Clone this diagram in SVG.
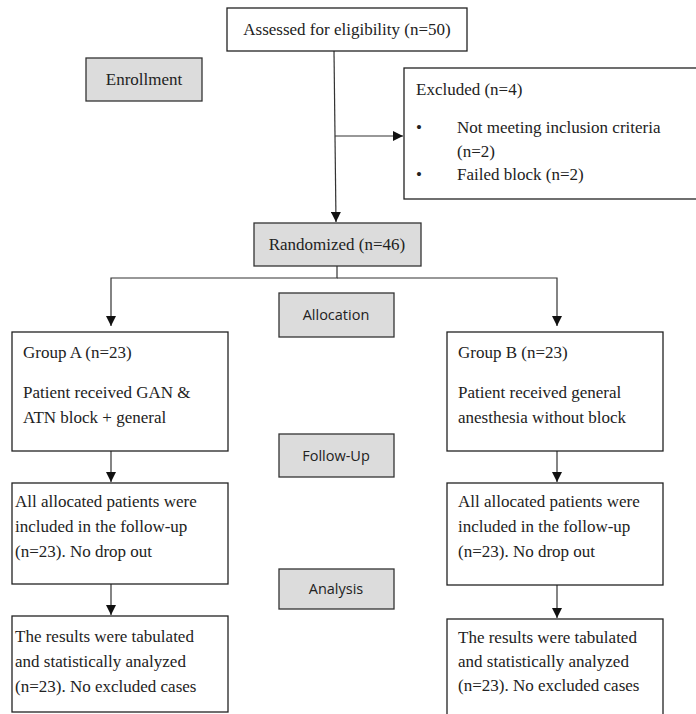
<svg xmlns="http://www.w3.org/2000/svg" width="696" height="714" viewBox="0 0 696 714">
<style>
.box{fill:#fff;stroke:#222;stroke-width:1.3}
.gbox{fill:#dcdcdc;stroke:#333;stroke-width:1.3}
.t{font-family:'Liberation Serif','DejaVu Serif',serif;font-size:17px;fill:#222}
.s{font-family:'Open Sans','Liberation Sans',sans-serif;font-size:14.5px;fill:#222}
.ln{fill:none;stroke:#333;stroke-width:1.2}
</style>
<defs>
<marker id="ah" viewBox="0 0 10 10" refX="10" refY="5" markerWidth="10" markerHeight="10" markerUnits="userSpaceOnUse" orient="auto">
<path d="M0,0 L10,5 L0,10 z" fill="#111"/>
</marker>
</defs>
<rect width="696" height="714" fill="#fff"/>
<g id="connectors">
<line class="ln" x1="334" y1="51" x2="336" y2="222" marker-end="url(#ah)"/>
<line class="ln" x1="335" y1="136" x2="403" y2="136" marker-end="url(#ah)"/>
<polyline class="ln" points="337,266 337,278 111,278 111,326" marker-end="url(#ah)"/>
<polyline class="ln" points="337,278 557,278 557,326" marker-end="url(#ah)"/>
<line class="ln" x1="111" y1="451" x2="111" y2="482" marker-end="url(#ah)"/>
<line class="ln" x1="111" y1="584" x2="111" y2="615" marker-end="url(#ah)"/>
<line class="ln" x1="557" y1="451" x2="557" y2="482" marker-end="url(#ah)"/>
<line class="ln" x1="557" y1="585" x2="557" y2="618" marker-end="url(#ah)"/>
</g>
<g id="assessed">
<rect class="box" x="227" y="8" width="240" height="43"/>
<text class="t" x="347" y="35" text-anchor="middle">Assessed for eligibility (n=50)</text>
</g>
<g id="enrollment">
<rect class="gbox" x="86" y="58" width="116" height="43"/>
<text class="t" x="144" y="85" text-anchor="middle">Enrollment</text>
</g>
<g id="excluded">
<rect class="box" x="404" y="68" width="300" height="131"/>
<text class="t" x="416" y="95">Excluded (n=4)</text>
<text class="t" x="416" y="133">•</text>
<text class="t" x="457" y="133">Not meeting inclusion criteria</text>
<text class="t" x="457" y="157">(n=2)</text>
<text class="t" x="416" y="180">•</text>
<text class="t" x="457" y="180">Failed block (n=2)</text>
</g>
<g id="randomized">
<rect class="gbox" x="254" y="223" width="167" height="43"/>
<text class="t" x="337" y="250" text-anchor="middle">Randomized (n=46)</text>
</g>
<g id="allocation">
<rect class="gbox" x="279" y="293" width="115" height="44"/>
<text class="s" x="336" y="320" text-anchor="middle">Allocation</text>
</g>
<g id="groupA">
<rect class="box" x="12" y="332" width="216" height="119"/>
<text class="t" x="23" y="358">Group A (n=23)</text>
<text class="t" x="23" y="398">Patient received GAN &amp;</text>
<text class="t" x="23" y="423">ATN block + general</text>
</g>
<g id="groupB">
<rect class="box" x="447" y="332" width="216" height="119"/>
<text class="t" x="458" y="358">Group B (n=23)</text>
<text class="t" x="458" y="398">Patient received general</text>
<text class="t" x="458" y="423">anesthesia without block</text>
</g>
<g id="followup">
<rect class="gbox" x="279" y="434" width="115" height="43"/>
<text class="s" x="336" y="461" text-anchor="middle">Follow-Up</text>
</g>
<g id="followA">
<rect class="box" x="12" y="483" width="216" height="101"/>
<text class="t" x="15" y="507">All allocated patients were</text>
<text class="t" x="15" y="532">included in the follow-up</text>
<text class="t" x="15" y="557">(n=23). No drop out</text>
</g>
<g id="followB">
<rect class="box" x="447" y="483" width="216" height="102"/>
<text class="t" x="458" y="507">All allocated patients were</text>
<text class="t" x="458" y="532">included in the follow-up</text>
<text class="t" x="458" y="557">(n=23). No drop out</text>
</g>
<g id="analysis">
<rect class="gbox" x="279" y="569" width="115" height="40"/>
<text class="s" x="336" y="594" text-anchor="middle">Analysis</text>
</g>
<g id="resultsA">
<rect class="box" x="12" y="616" width="216" height="96"/>
<text class="t" x="15" y="642">The results were tabulated</text>
<text class="t" x="15" y="667">and statistically analyzed</text>
<text class="t" x="15" y="692">(n=23). No excluded cases</text>
</g>
<g id="resultsB">
<rect class="box" x="447" y="619" width="216" height="110"/>
<text class="t" x="458" y="643">The results were tabulated</text>
<text class="t" x="458" y="667">and statistically analyzed</text>
<text class="t" x="458" y="691">(n=23). No excluded cases</text>
</g>
</svg>
